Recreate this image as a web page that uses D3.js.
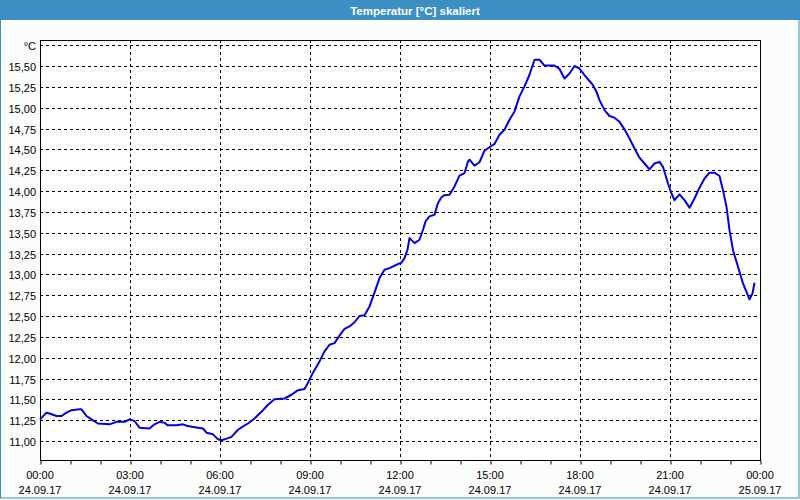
<!DOCTYPE html>
<html><head><meta charset="utf-8">
<script src="https://cdn.jsdelivr.net/npm/d3@7"></script>
<style>html,body{margin:0;padding:0;background:#fff;} svg{display:block;}</style>
</head><body><svg id="c" width="800" height="500"></svg>
<script>
const title = "Temperatur [°C] skaliert";
// minutes since 24.09.17 00:00
const minutes = [0,13,19,33,43,53,63,79,83,93,103,116,139,153,169,179,189,199,219,229,239,249,255,273,286,295,316,326,333,346,356,363,369,379,
383,396,406,416,429,443,456,469,489,503,516,529,536,546,559,569,579,589,599,609,619,629,639,649,659,669,679,689,699,713,723,729,735,739,749,759,766,771,779,789,796,803,809,819,829,839,849,856,859,869,879,889,899,909,919,929,939,949,959,969,979,989,999,1009,1029,1039,1049,1059,1069,1079,1089,1099,1106,1113,1119,1129,1139,1149,1159,1169,1179,1189,1199,1209,1219,1229,1239,1246,1256,1263,1269,1279,1289,1299,1309,1319,1329,1339,1349,1359,1366,1373,1379,1386,1393,1399,1406,1413,1419,1425,1429];
const temps = [11.26,11.34,11.33,11.30,11.30,11.34,11.37,11.38,11.38,11.30,11.26,11.21,11.20,11.23,11.23,11.26,11.24,11.16,11.15,11.20,11.23,11.22,11.19,11.19,11.20,11.18,11.16,11.15,11.10,11.08,11.02,11.01,11.02,11.04,
11.05,11.135,11.175,11.21,11.27,11.35,11.435,11.50,11.51,11.555,11.61,11.625,11.70,11.82,11.955,12.075,12.155,12.175,12.265,12.345,12.375,12.425,12.50,12.51,12.615,12.78,12.955,13.055,13.075,13.115,13.14,13.195,13.295,13.435,13.375,13.415,13.535,13.635,13.695,13.715,13.855,13.925,13.95,13.955,14.055,14.185,14.215,14.355,14.375,14.305,14.345,14.485,14.525,14.565,14.675,14.735,14.855,14.955,15.135,15.255,15.395,15.575,15.575,15.505,15.505,15.465,15.35,15.41,15.50,15.47,15.39,15.32,15.27,15.19,15.09,14.97,14.90,14.88,14.83,14.74,14.63,14.51,14.40,14.33,14.26,14.33,14.35,14.29,14.09,13.97,13.89,13.96,13.89,13.80,13.91,14.04,14.15,14.22,14.22,14.18,14.01,13.81,13.53,13.29,13.15,13.03,12.89,12.79,12.70,12.77,12.90];
const xTickMinutes = [0,180,360,540,720,900,1080,1260,1440];
const xTickTimes = ["00:00","03:00","06:00","09:00","12:00","15:00","18:00","21:00","00:00"];
const xTickDates = ["24.09.17","24.09.17","24.09.17","24.09.17","24.09.17","24.09.17","24.09.17","24.09.17","25.09.17"];
const yTickValues = [11,11.25,11.5,11.75,12,12.25,12.5,12.75,13,13.25,13.5,13.75,14,14.25,14.5,14.75,15,15.25,15.5,15.75];
const yTickLabels = ["11,00","11,25","11,50","11,75","12,00","12,25","12,50","12,75","13,00","13,25","13,50","13,75","14,00","14,25","14,50","14,75","15,00","15,25","15,50","°C"];

const W = 800, H = 500;
const L = 40, R = 760, T = 40, B = 460;
const font = "'Liberation Sans', Arial, sans-serif";
const svg = d3.select("#c");

// window background and border
svg.append("rect").attr("x",0).attr("y",0).attr("width",W).attr("height",H).attr("fill","#fbfdfb");
svg.append("rect").attr("x",0.5).attr("y",0.5).attr("width",798.5).attr("height",497.5)
  .attr("fill","none").attr("stroke","#3b8fc3").attr("stroke-width",1);
svg.append("rect").attr("x",0).attr("y",0).attr("width",W).attr("height",20).attr("fill","#3b8fc3");
svg.append("text").attr("x",415).attr("y",14.5).attr("text-anchor","middle")
  .attr("fill","#fff").attr("font-family",font).attr("font-weight","bold").attr("font-size","11.5px")
  .text(title);

const x = d3.scaleLinear().domain([0,1440]).range([L,R]);
const y = d3.scaleLinear().domain([11,15.5]).range([441,66]);

// plot background
svg.append("rect").attr("x",L).attr("y",T).attr("width",R-L).attr("height",B-T).attr("fill","#fff");

// horizontal grid
const g = svg.append("g");
g.selectAll("line.h").data(yTickValues).join("line")
  .attr("x1",L).attr("x2",R)
  .attr("y1",d=>Math.round(y(d))+0.5).attr("y2",d=>Math.round(y(d))+0.5)
  .attr("stroke","#000").attr("stroke-width",1).attr("stroke-dasharray","3,3");
// vertical grid
g.selectAll("line.v").data(xTickMinutes.slice(1,-1)).join("line")
  .attr("x1",d=>Math.round(x(d))+0.5).attr("x2",d=>Math.round(x(d))+0.5)
  .attr("y1",T).attr("y2",B)
  .attr("stroke","#000").attr("stroke-width",1).attr("stroke-dasharray","3,3");

// hourly ticks via axis
const hours = d3.range(0,1441,60);
const ax = svg.append("g").attr("transform",`translate(0.5,${B+0.5})`)
  .call(d3.axisBottom(x).tickValues(hours).tickSize(4).tickSizeOuter(0).tickFormat(""));
ax.select(".domain").remove();
ax.selectAll("line").attr("stroke","#000");

// frame
svg.append("rect").attr("x",L+0.5).attr("y",T+0.5).attr("width",R-L).attr("height",B-T)
  .attr("fill","none").attr("stroke","#000").attr("stroke-width",1);

// y labels
svg.append("g").selectAll("text").data(yTickValues).join("text")
  .attr("x",36).attr("y",d=>Math.round(y(d))+4.5).attr("text-anchor","end")
  .attr("font-family",font).attr("font-size","11px").attr("fill","#000")
  .text((d,i)=>yTickLabels[i]);

// x labels
const xl = svg.append("g");
xl.selectAll("text.t").data(xTickMinutes).join("text")
  .attr("x",d=>x(d)).attr("y",479).attr("text-anchor","middle")
  .attr("font-family",font).attr("font-size","11px").attr("fill","#000")
  .text((d,i)=>xTickTimes[i]);
xl.selectAll("text.d").data(xTickMinutes).join("text")
  .attr("x",d=>x(d)).attr("y",494).attr("text-anchor","middle")
  .attr("font-family",font).attr("font-size","11px").attr("fill","#000")
  .text((d,i)=>xTickDates[i]);

// line
const data = minutes.map((m,i)=>[m,temps[i]]);
svg.append("path").datum(data)
  .attr("fill","none").attr("stroke","#0000e0").attr("stroke-width",2)
  .attr("stroke-linejoin","round")
  .attr("d", d3.line().x(d=>x(d[0])).y(d=>y(d[1])));
</script></body></html>
